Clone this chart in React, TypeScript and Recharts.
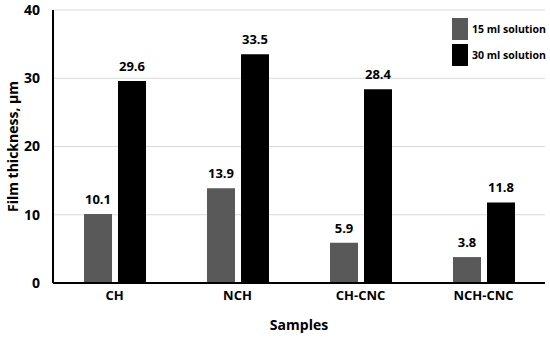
import { BarChart, Bar, XAxis, YAxis, CartesianGrid, LabelList } from 'recharts';

const samples = ['CH', 'NCH', 'CH-CNC', 'NCH-CNC'];
const ml15 = [10.1, 13.9, 5.9, 3.8];
const ml30 = [29.6, 33.5, 28.4, 11.8];
const yTicks = [0, 10, 20, 30, 40];

const data = samples.map((s, i) => ({ sample: s, ml15: ml15[i], ml30: ml30[i] }));

const font = '"Open Sans", "Liberation Sans", sans-serif';

// legend sits over the plot, so keep it out of recharts' layout
function LegendBox() {
  const items = [
    { label: '15 ml solution', color: '#595959' },
    { label: '30 ml solution', color: '#000000' },
  ];
  return (
    <div style={{ position: 'absolute', top: 16, left: 452, fontFamily: font, fontWeight: 700, fontSize: 10.5, color: '#000' }}>
      {items.map((it) => (
        <div key={it.label} style={{ display: 'flex', alignItems: 'center', height: 26 }}>
          <span style={{ width: 16, height: 22, background: it.color, display: 'inline-block', marginRight: 4 }} />
          <span>{it.label}</span>
        </div>
      ))}
    </div>
  );
}

export default function App() {
  return (
    <div style={{ width: 550, height: 339, position: 'absolute', left: 0, top: 0, background: '#fff' }}>
      <BarChart
        width={550}
        height={339}
        data={data}
        margin={{ top: 10, right: 5, left: 13, bottom: 31 }}
        barGap={6}
        barSize={28}
      >
        <CartesianGrid vertical={false} stroke="#d9d9d9" strokeWidth={1} />
        <XAxis
          dataKey="sample"
          height={25}
          axisLine={{ stroke: '#000', strokeWidth: 2 }}
          tickLine={false}
          tick={{ fill: '#000', fontSize: 13, fontWeight: 700, fontFamily: font }}
          label={{ value: 'Samples', position: 'insideBottom', offset: -22, fill: '#000', fontSize: 14, fontWeight: 700, fontFamily: font }}
        />
        <YAxis
          domain={[0, 40]}
          ticks={yTicks}
          width={40}
          axisLine={{ stroke: '#000', strokeWidth: 2 }}
          tickLine={false}
          tickMargin={7}
          tick={{ fill: '#000', fontSize: 14, fontWeight: 700, fontFamily: font }}
          label={{ value: 'Film thickness, µm', angle: -90, position: 'insideLeft', offset: 0, fill: '#000', fontSize: 14, fontWeight: 700, fontFamily: font, style: { textAnchor: 'middle' } }}
        />
        <Bar dataKey="ml15" fill="#595959" isAnimationActive={false}>
          <LabelList dataKey="ml15" position="top" offset={10} style={{ fill: '#000', fontSize: 13, fontWeight: 700, fontFamily: font }} />
        </Bar>
        <Bar dataKey="ml30" fill="#000000" isAnimationActive={false}>
          <LabelList dataKey="ml30" position="top" offset={10} style={{ fill: '#000', fontSize: 13, fontWeight: 700, fontFamily: font }} />
        </Bar>
      </BarChart>
      <LegendBox />
    </div>
  );
}
